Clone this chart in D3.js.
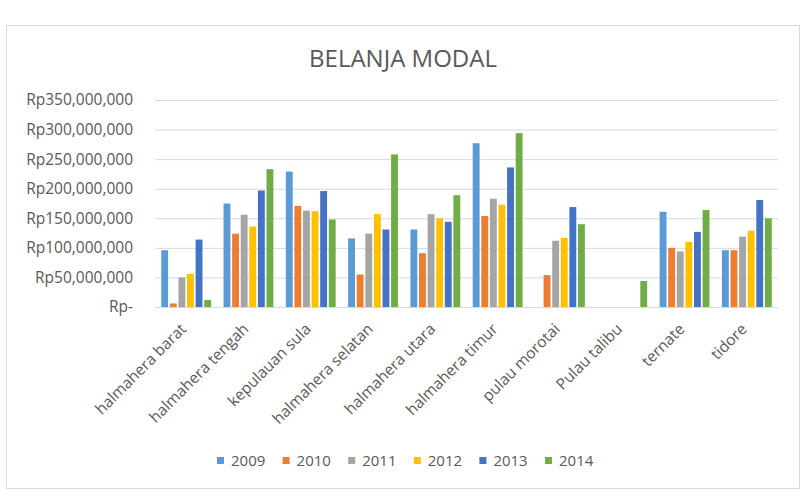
<!DOCTYPE html>
<html><head><meta charset="utf-8">
<script src="https://cdn.jsdelivr.net/npm/d3@7"></script>
<style>body{margin:0;background:#fff}svg{display:block}text{font-family:"Open Sans",sans-serif;fill:#595959}</style>
</head><body><svg id="c" width="806" height="498"></svg>
<script>
const categories = ["halmahera barat","halmahera tengah","kepulauan sula","halmahera selatan","halmahera utara","halmahera timur","pulau morotai","Pulau talibu","ternate","tidore"];
const years = ["2009","2010","2011","2012","2013","2014"];
const v2009 = [96e6,175e6,229e6,116e6,131e6,277e6,0,0,161e6,96e6];
const v2010 = [6e6,124e6,171e6,55e6,91e6,154e6,54e6,0,100e6,96e6];
const v2011 = [50e6,156e6,163e6,124e6,157e6,183e6,112e6,0,94e6,119e6];
const v2012 = [56e6,136e6,162e6,157e6,150e6,173e6,117e6,0,110e6,129e6];
const v2013 = [114e6,197e6,196e6,131e6,144e6,236e6,169e6,0,127e6,181e6];
const v2014 = [12e6,233e6,148e6,258e6,189e6,294e6,140e6,44e6,164e6,150e6];
const series = [v2009,v2010,v2011,v2012,v2013,v2014];
const tickValues = [0,50e6,100e6,150e6,200e6,250e6,300e6,350e6];
const tickLabels = ["Rp-","Rp50,000,000","Rp100,000,000","Rp150,000,000","Rp200,000,000","Rp250,000,000","Rp300,000,000","Rp350,000,000"];
const colors = ["#5B9BD5","#ED7D31","#A5A5A5","#FFC000","#4472C4","#70AD47"];

const svg = d3.select("#c");
svg.append("rect").attr("x",6.5).attr("y",25.5).attr("width",793).attr("height",463)
  .attr("fill","#fff").attr("stroke","#d9d9d9");
svg.append("text").attr("x",403).attr("y",67).attr("text-anchor","middle")
  .style("font-size","24px").text("BELANJA MODAL");

const x0 = d3.scaleBand().domain(categories).range([155,778]).paddingInner(0.2).paddingOuter(0.1);
const x1 = d3.scaleBand().domain(years).range([0,x0.bandwidth()]).paddingInner(0.2);
const y = d3.scaleLinear().domain([0,350e6]).range([307,100]);

const yAxis = d3.axisLeft(y).tickValues(tickValues).tickSize(-(778-155))
  .tickFormat((d,i)=>tickLabels[i]).tickPadding(22);
const ga = svg.append("g").attr("transform","translate(155,0)").call(yAxis);
ga.select(".domain").remove();
ga.selectAll(".tick line").attr("stroke","#d9d9d9");
ga.selectAll(".tick text").style("font-size","15.5px").style("font-family","'Open Sans',sans-serif").attr("fill","#595959");

const g = svg.append("g");
categories.forEach((c,ci)=>{
  years.forEach((yr,si)=>{
    const v = series[si][ci];
    if(!v) return;
    g.append("rect").attr("x",x0(c)+x1(yr)).attr("width",x1.bandwidth())
      .attr("y",y(v)).attr("height",y(0)-y(v)).attr("fill",colors[si]);
  });
});

const xl = svg.append("g");
categories.forEach(c=>{
  const cx = x0(c)+x0.bandwidth()/2;
  xl.append("text").attr("transform",`translate(${cx+1},${330}) rotate(-45)`)
    .attr("text-anchor","end").style("font-size","15.5px").text(c);
});

const lg = svg.append("g");
years.forEach((yr,i)=>{
  const lx = 217 + i*65.6;
  lg.append("rect").attr("x",lx).attr("y",457).attr("width",7).attr("height",7).attr("fill",colors[i]);
  lg.append("text").attr("x",lx+14).attr("y",466).style("font-size",'15px').text(yr);
});
</script></body></html>
